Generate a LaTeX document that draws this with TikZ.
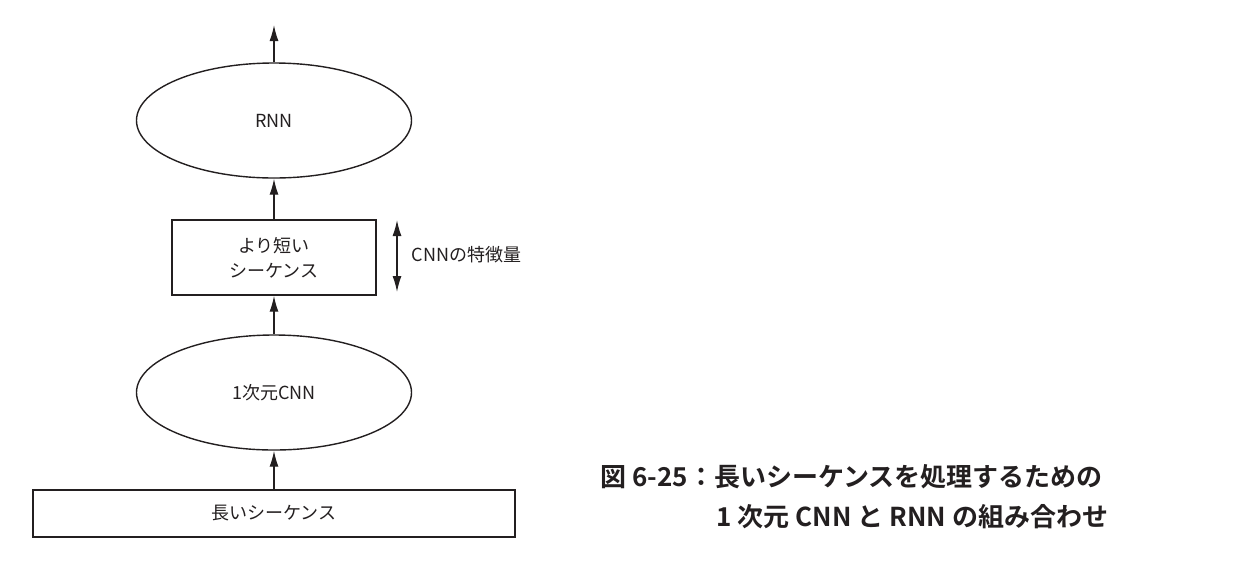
\documentclass[tikz,border=0pt]{standalone}
\usepackage{fontspec}
\setmainfont{Noto Sans CJK JP}
\newfontfamily\capfont{Noto Sans CJK JP Bold}
\usepackage{xcolor}
\usetikzlibrary{arrows, arrows.meta}
\usetikzlibrary{shapes.geometric}
\definecolor{ink}{HTML}{231F20}

\begin{document}
\begin{tikzpicture}[x=1pt, y=-1pt, line width=1.4pt, color=ink,
    layer/.style={ellipse, draw, inner sep=0pt, minimum width=275pt, minimum height=115pt, font=\fontsize{18}{24}\selectfont},
    seq/.style={rectangle, draw, inner sep=0pt, align=center, font=\fontsize{18}{25}\selectfont},
    figcap/.style={inner sep=0pt, anchor=west, font=\capfont\fontsize{26}{30}\selectfont},
    flow/.style={-{Latex[length=16pt, width=9pt]}}]
      \useasboundingbox (0,0) rectangle (1244,566);

      \node[seq, minimum width=482pt, minimum height=47pt] (long) at (274,513.5) {長いシーケンス};
      \node[layer] (cnn) at (274,392.5) {1次元CNN};
      \node[seq, minimum width=204pt, minimum height=75pt] (short) at (274,257.5) {より短い\\シーケンス};
      \node[layer] (rnn) at (274,120.5) {RNN};
      \coordinate (out) at (274,25);

      \draw[flow] (long) -- (cnn);
      \draw[flow] (cnn) -- (short);
      \draw[flow] (short) -- (rnn);
      \draw[flow] (rnn) -- (out);

      \coordinate (feattop) at (397,220);
      \coordinate (featbot) at (397,292);
      \draw[{Latex[length=16pt, width=9pt]}-{Latex[length=16pt, width=9pt]}] (feattop) -- (featbot);
      \node[anchor=west, inner sep=0pt, font=\fontsize{18}{24}\selectfont] (feat) at (411,255) {CNNの特徴量};

      \node[figcap] (cap1) at (600,477) {図 6-25：長いシーケンスを処理するための};
      \node[figcap] (cap2) at (716,517) {1 次元 CNN と RNN の組み合わせ};
    \end{tikzpicture}
\end{document}
